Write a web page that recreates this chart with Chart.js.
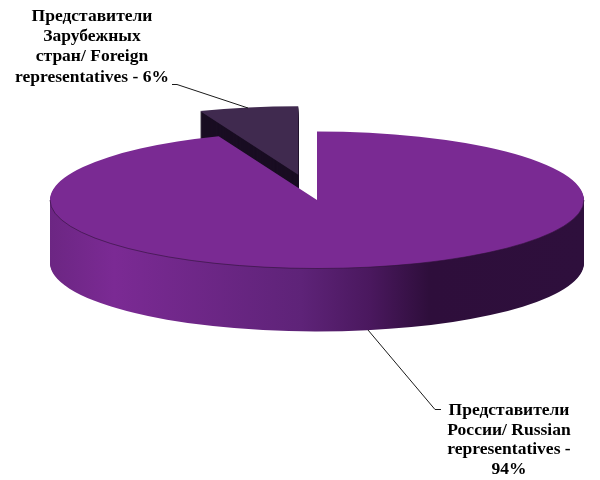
<!DOCTYPE html>
<html>
<head>
<meta charset="utf-8">
<title>Представители</title>
<script src="https://cdn.jsdelivr.net/npm/chart.js@4/dist/chart.umd.min.js"></script>
<style>
    html, body { margin: 0; padding: 0; background: #ffffff; }
    canvas { display: block; }
</style>
</head>
<body>
<canvas id="pieChart" width="600" height="480"></canvas>
<script>
// --- DATA ---
const categories = ['Представители России/ Russian representatives', 'Представители Зарубежных стран/ Foreign representatives'];
const shares = [94, 6];
const sliceColors = ['#7a2a93', '#402a4f'];
const russianLabel = ['Представители', 'России/ Russian', 'representatives -', '94%'];
const foreignLabel = ['Представители', 'Зарубежных', 'стран/ Foreign', 'representatives - 6%'];

// --- 3D LOOK ---
const SQUASH = 0.2566;
const DEPTH = 63;
const EXPLODE = 100;

// draws one arc squashed, pushed down by `drop` pixels and moved out along its mid angle
function drawFlat(ctx, arc, drop, fill, explode) {
    const saved = arc.options;
    const opts = Object.create(saved);
    opts.backgroundColor = fill;
    opts.borderWidth = 0;
    arc.options = opts;
    const mid = (arc.startAngle + arc.endAngle) / 2;
    ctx.save();
    ctx.translate(0, arc.y + drop);
    ctx.scale(1, SQUASH);
    ctx.translate(0, -arc.y);
    ctx.translate(Math.cos(mid) * explode, Math.sin(mid) * explode);
    arc.draw(ctx);
    ctx.restore();
    arc.options = saved;
}

function drawText(ctx, lines, centerX, firstY, lineGap) {
    ctx.fillStyle = '#000000';
    ctx.font = 'bold 17.5px "Liberation Serif"';
    ctx.textAlign = 'center';
    ctx.textBaseline = 'alphabetic';
    lines.forEach((line, i) => ctx.fillText(line, centerX, firstY + i * lineGap));
}

function drawLeader(ctx, pts) {
    ctx.strokeStyle = '#1a1a1a';
    ctx.lineWidth = 1;
    ctx.beginPath();
    pts.forEach((p, i) => i ? ctx.lineTo(p[0], p[1]) : ctx.moveTo(p[0], p[1]));
    ctx.stroke();
}

const pie3d = {
    id: 'pie3d',
    beforeDatasetDraw(chart) {
        const ctx = chart.ctx;
        const [main, foreign] = chart.getDatasetMeta(0).data;

        // foreign slice sits behind the main one
        for (let d = DEPTH; d > 0; d--) drawFlat(ctx, foreign, d, '#190d22', EXPLODE);
        drawFlat(ctx, foreign, 0, sliceColors[1], EXPLODE);

        const left = main.x - main.outerRadius;
        const width = main.outerRadius * 2;
        const wall = ctx.createLinearGradient(left, 0, left + width, 0);
        wall.addColorStop(0, '#6c2683');
        wall.addColorStop(0.12, '#7b2a94');
        wall.addColorStop(0.47, '#5e2378');
        wall.addColorStop(0.6, '#4a185e');
        wall.addColorStop(0.71, '#2e0e3b');
        wall.addColorStop(1, '#2e0f3c');
        for (let d = DEPTH; d > 0; d--) drawFlat(ctx, main, d, wall, 0);
        drawFlat(ctx, main, 0, sliceColors[0], 0);

        // thin dark rim on the front edge of the top face
        ctx.save();
        ctx.translate(main.x, main.y);
        ctx.scale(1, SQUASH);
        ctx.beginPath();
        ctx.arc(0, 0, main.outerRadius, Math.PI, 0, true);
        ctx.restore();
        ctx.strokeStyle = '#2e1238';
        ctx.lineWidth = 0.6;
        ctx.stroke();

        return false;
    },
    afterDraw(chart) {
        const ctx = chart.ctx;
        drawLeader(ctx, [[172, 84.5], [177, 84.5], [248, 108]]);
        drawLeader(ctx, [[368, 330], [435, 409.5], [441, 409.5]]);
        drawText(ctx, foreignLabel, 92, 21, 20.2);
        drawText(ctx, russianLabel, 509, 415, 19.5);
    }
};

new Chart(document.getElementById('pieChart'), {
    type: 'pie',
    data: {
        labels: categories,
        datasets: [{
            data: shares,
            backgroundColor: sliceColors,
            borderWidth: 0,
            radius: 267
        }]
    },
    options: {
        responsive: false,
        animation: false,
        layout: { padding: { left: 34, right: 0, top: 0, bottom: 80 } },
        plugins: { legend: { display: false }, tooltip: { enabled: false } }
    },
    plugins: [pie3d]
});
</script>
</body>
</html>
